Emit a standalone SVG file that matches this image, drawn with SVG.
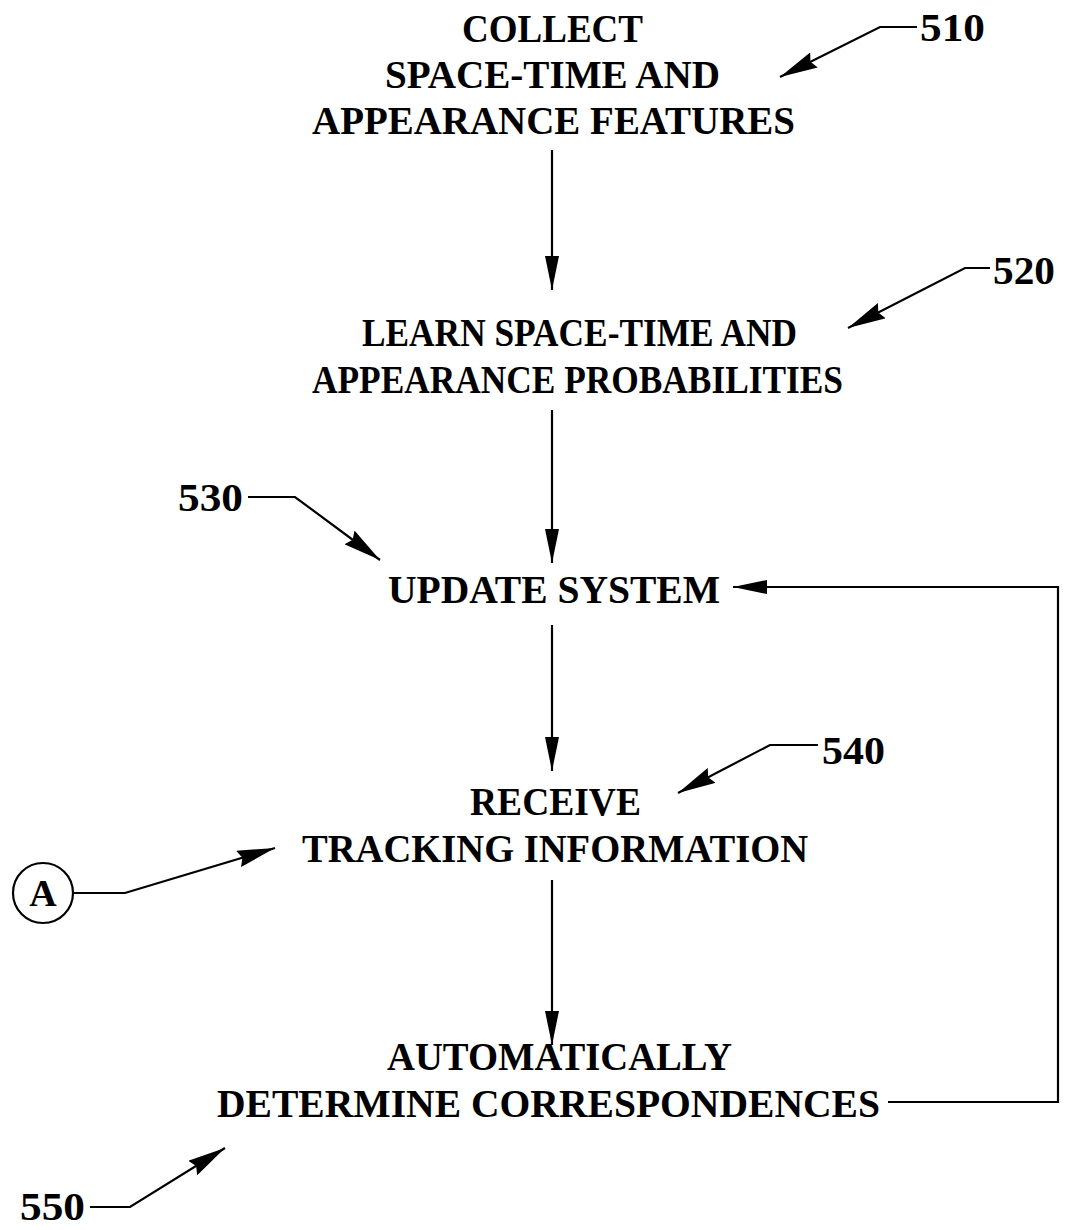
<svg xmlns="http://www.w3.org/2000/svg" width="1065" height="1230" viewBox="0 0 1065 1230">
<style>
text{font-family:"Liberation Serif","Times New Roman",serif;font-weight:bold;font-size:39px;fill:#000}
.ref{font-size:41px}
.ln{stroke:#000;stroke-width:2.2;fill:none}
</style>
<defs>
<marker id="ah" viewBox="0 0 34 14" refX="34" refY="7" markerWidth="34" markerHeight="14" markerUnits="userSpaceOnUse" orient="auto">
<path d="M0,0 L34,7 L0,14 Z" fill="#000"/>
</marker>
<marker id="lh" viewBox="0 0 38 17" refX="38" refY="8.5" markerWidth="38" markerHeight="17" markerUnits="userSpaceOnUse" orient="auto">
<path d="M0,0 L38,8.5 L0,17 L4,8.5 Z" fill="#000"/>
</marker>
</defs>
<rect width="1065" height="1230" fill="#fff"/>
<g id="n510">
<text x="462" y="42" textLength="181" lengthAdjust="spacingAndGlyphs">COLLECT</text>
<text x="385" y="88" textLength="335" lengthAdjust="spacingAndGlyphs">SPACE-TIME AND</text>
<text x="312" y="134" textLength="483" lengthAdjust="spacingAndGlyphs">APPEARANCE FEATURES</text>
</g>
<g id="n520">
<text x="362" y="346" textLength="435" lengthAdjust="spacingAndGlyphs">LEARN SPACE-TIME AND</text>
<text x="312" y="393" textLength="531" lengthAdjust="spacingAndGlyphs">APPEARANCE PROBABILITIES</text>
</g>
<g id="n530">
<text x="388" y="603" textLength="332" lengthAdjust="spacingAndGlyphs">UPDATE SYSTEM</text>
</g>
<g id="n540">
<text x="470" y="815" textLength="171" lengthAdjust="spacingAndGlyphs">RECEIVE</text>
<text x="302" y="862" textLength="506" lengthAdjust="spacingAndGlyphs">TRACKING INFORMATION</text>
</g>
<g id="n550">
<text x="387" y="1070" textLength="345" lengthAdjust="spacingAndGlyphs">AUTOMATICALLY</text>
<text x="217" y="1117" textLength="663" lengthAdjust="spacingAndGlyphs">DETERMINE CORRESPONDENCES</text>
</g>
<g id="nA">
<circle cx="43" cy="893" r="30" fill="none" stroke="#000" stroke-width="2.2"/>
<text x="43" y="906" text-anchor="middle" style="font-size:38px">A</text>
</g>
<g id="labels">
<text class="ref" x="920" y="41" textLength="65" lengthAdjust="spacingAndGlyphs">510</text>
<text class="ref" x="993" y="284" textLength="62" lengthAdjust="spacingAndGlyphs">520</text>
<text class="ref" x="178" y="511" textLength="65" lengthAdjust="spacingAndGlyphs">530</text>
<text class="ref" x="822" y="764" textLength="63" lengthAdjust="spacingAndGlyphs">540</text>
<text class="ref" x="20" y="1220" textLength="65" lengthAdjust="spacingAndGlyphs">550</text>
</g>
<g id="connectors">
<line class="ln" x1="552" y1="150" x2="552" y2="290" marker-end="url(#ah)"/>
<line class="ln" x1="552" y1="410" x2="552" y2="563" marker-end="url(#ah)"/>
<line class="ln" x1="552" y1="625" x2="552" y2="771" marker-end="url(#ah)"/>
<line class="ln" x1="552" y1="880" x2="552" y2="1045" marker-end="url(#ah)"/>
<polyline class="ln" points="888,1102 1058,1102 1058,587 733,587" marker-end="url(#ah)"/>
<polyline class="ln" points="917,27 880,27 780,77" marker-end="url(#lh)"/>
<polyline class="ln" points="990,268 965,268 848,328" marker-end="url(#lh)"/>
<polyline class="ln" points="248,497 295,497 380,560" marker-end="url(#lh)"/>
<polyline class="ln" points="818,745 770,745 678,793" marker-end="url(#lh)"/>
<polyline class="ln" points="90,1207 130,1207 225,1148" marker-end="url(#lh)"/>
<polyline class="ln" points="73,893 125,893 275,848" marker-end="url(#lh)"/>
</g>
</svg>
